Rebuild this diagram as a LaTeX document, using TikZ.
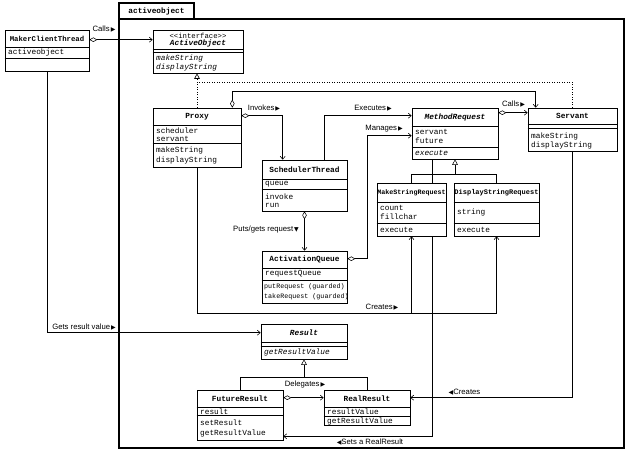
\documentclass[tikz,border=0pt]{standalone}
\usepackage{fontspec}
\setmonofont{Liberation Mono}
\newfontfamily\lsans{Liberation Sans}
\newfontfamily\dvs{DejaVu Sans}
\usetikzlibrary{arrows.meta,calc,fit}
\pgfdeclarelayer{bg}
\pgfsetlayers{bg,main}
\newcommand\rtri{{\dvs\fontsize{6}{7}\selectfont\,▶}}
\newcommand\ltri{{\dvs\fontsize{6}{7}\selectfont ◀}}
\newcommand\dtri{{\dvs\fontsize{6}{7}\selectfont\,▼}}
\tikzset{
  box/.style={draw, line width=0.6pt, fill=white, inner sep=0pt},
  pkg/.style={draw, line width=1.1pt, inner sep=0pt},
  sepl/.style={line width=0.5pt},
  nm/.style={font=\ttfamily\bfseries\fontsize{7.8}{9}\selectfont, inner sep=0pt},
  nmi/.style={font=\ttfamily\bfseries\itshape\fontsize{7.8}{9}\selectfont, inner sep=0pt},
  atr/.style={font=\ttfamily\fontsize{7.8}{9}\selectfont, anchor=west, inner sep=0pt},
  atri/.style={font=\ttfamily\itshape\fontsize{7.8}{9}\selectfont, anchor=west, inner sep=0pt},
  lb/.style={font=\lsans\fontsize{7.7}{9}\selectfont, inner sep=0pt},
  plain/.style={line width=0.55pt},
  nav/.style={line width=0.55pt, -{Straight Barb[length=3pt,width=5pt]}},
  agg/.style={line width=0.55pt, {Diamond[open,length=8pt,width=4.5pt]}-{Straight Barb[length=3pt,width=5pt]}},
  gen/.style={line width=0.55pt, -{Triangle[open,length=5.5pt,width=5.5pt]}},
  dline/.style={line width=0.6pt, dash pattern=on 1pt off 1.5pt},
}
\newcommand\uclass[5]{\node[box, fit={(#2,#3) (#4,#5)}] (#1) {};}
\newcommand\usep[2]{\draw[sepl] (#1.west |- 0,#2) -- (#1.east |- 0,#2);}
\begin{document}
\begin{tikzpicture}[x=1pt,y=-1pt]
\useasboundingbox (0,0) rectangle (632,452);
% package
\node[pkg, fit={(119,19) (624,448)}] (pkgbody) {};
\node[pkg, fit={(119,3) (194,19)}] (pkgtab) {};
\node[nm] (pkgname) at (156.5,11) {activeobject};

% MakerClientThread
\uclass{mct}{5}{30}{89}{71}
\usep{mct}{47}\usep{mct}{58}
\node[nm, font=\ttfamily\bfseries\fontsize{7.3}{9}\selectfont] (mctn) at (47,38.5) {MakerClientThread};
\node[atr] (mcta) at (8,52.5) {activeobject};

% ActiveObject
\uclass{ao}{153}{30}{243}{73}
\usep{ao}{49}\usep{ao}{52}
\node[atr, anchor=center, font=\ttfamily\fontsize{7.3}{9}\selectfont] (aos) at (198,35.5) {<{}<interface>{}>};
\node[nmi] (aon) at (198,43.5) {ActiveObject};
\node[atri] (aoo1) at (156,58) {makeString};
\node[atri] (aoo2) at (156,67.5) {displayString};

% Proxy
\uclass{proxy}{153}{108}{241}{167}
\usep{proxy}{125}\usep{proxy}{143}
\node[nm] (proxyn) at (197,116.5) {Proxy};
\node[atr] (proxya1) at (156,130.5) {scheduler};
\node[atr] (proxya2) at (156,138.5) {servant};
\node[atr] (proxyo1) at (156,150) {makeString};
\node[atr] (proxyo2) at (156,160) {displayString};

% SchedulerThread
\uclass{st}{262}{160}{347}{211}
\usep{st}{179}\usep{st}{189}
\node[nm] (stn) at (304.5,169.5) {SchedulerThread};
\node[atr] (sta1) at (265,184) {queue};
\node[atr] (sto1) at (265,197) {invoke};
\node[atr] (sto2) at (265,205.5) {run};

% ActivationQueue
\uclass{aq}{262}{251}{347}{303}
\usep{aq}{268}\usep{aq}{280}
\node[nm] (aqn) at (304.5,259.5) {ActivationQueue};
\node[atr] (aqa1) at (265,274) {requestQueue};
\node[atr, font=\ttfamily\fontsize{6.7}{8}\selectfont] (aqo1) at (264,286.5) {putRequest (guarded)};
\node[atr, font=\ttfamily\fontsize{6.7}{8}\selectfont] (aqo2) at (264,296.5) {takeRequest (guarded)};

% MethodRequest
\uclass{mr}{412}{108}{498}{159}
\usep{mr}{126}\usep{mr}{147}
\node[nmi] (mrn) at (455,117) {MethodRequest};
\node[atr] (mra1) at (415,131.5) {servant};
\node[atr] (mra2) at (415,141) {future};
\node[atri] (mro1) at (415,153) {execute};

% Servant
\uclass{sv}{528}{108}{617}{151}
\usep{sv}{124}\usep{sv}{128}
\node[nm] (svn) at (572.5,116) {Servant};
\node[atr] (svo1) at (531,136) {makeString};
\node[atr] (svo2) at (531,145) {displayString};

% MakeStringRequest
\uclass{msr}{377}{183}{446}{236}
\usep{msr}{202}\usep{msr}{223}
\node[nm, font=\ttfamily\bfseries\fontsize{6.7}{8}\selectfont] (msrn) at (411.5,192.5) {MakeStringRequest};
\node[atr] (msra1) at (380,207.5) {count};
\node[atr] (msra2) at (380,217) {fillchar};
\node[atr] (msro1) at (380,229.5) {execute};

% DisplayStringRequest
\uclass{dsr}{454}{183}{539}{236}
\usep{dsr}{202}\usep{dsr}{223}
\node[nm, font=\ttfamily\bfseries\fontsize{7}{8}\selectfont] (dsrn) at (496.5,192.5) {DisplayStringRequest};
\node[atr] (dsra1) at (457,212.5) {string};
\node[atr] (dsro1) at (457,229.5) {execute};

% Result
\uclass{res}{261}{324}{347}{359}
\usep{res}{342}\usep{res}{346}
\node[nmi] (resn) at (304,333) {Result};
\node[atri] (reso1) at (264,352.5) {getResultValue};

% FutureResult
\uclass{fr}{197}{390}{283}{440}
\usep{fr}{407}\usep{fr}{415.5}
\node[nm] (frn) at (240,398.5) {FutureResult};
\node[atr] (fra1) at (200,411.5) {result};
\node[atr] (fro1) at (200,422.5) {setResult};
\node[atr] (fro2) at (200,433) {getResultValue};

% RealResult
\uclass{rr}{324}{390}{410}{425}
\usep{rr}{407}\usep{rr}{416.5}
\node[nm] (rrn) at (367,398.5) {RealResult};
\node[atr] (rra1) at (327,412) {resultValue};
\node[atr] (rro1) at (327,421) {getResultValue};

% labels
\node[lb] (lcalls1) at (104,29) {Calls\rtri};
\node[lb] (lgets) at (84,327) {Gets result value\rtri};
\node[lb] (linv) at (264,108) {Invokes\rtri};
\node[lb] (lexe) at (373,108) {Executes\rtri};
\node[lb] (lman) at (384,129) {Manages\rtri};
\node[lb] (lcalls2) at (513.5,104) {Calls\rtri};
\node[lb] (lputs) at (266,230) {Puts/gets request\dtri};
\node[lb] (lcr1) at (382,307) {Creates\rtri};
\node[lb] (ldel) at (305,385) {Delegates\rtri};
\node[lb] (lcr2) at (464.5,392) {\ltri Creates};
\node[lb] (lset) at (370,442) {\ltri Sets a RealResult};

\begin{pgfonlayer}{bg}
\draw[agg] ($(mct.north east)+(0,10)$) -- ($(ao.north west)+(0,10)$);
\draw[nav] (mct.south) |- ($(res.north west)+(0,9)$);
\draw[dline, -{Triangle[open,length=5.5pt,width=5.5pt]}] (proxy.north) -- (proxy.north |- ao.south);
\draw[dline] (sv.north) |- ($(proxy.north)+(0,-25)$);
\draw[agg] ($(proxy.north east)+(-9,0)$) -- ++(0,-16) -| ($(sv.north west)+(8,0)$);
\draw[agg] ($(proxy.north east)+(0,8)$) -| ($(st.north west)+(21,0)$);
\draw[nav] ($(st.north west)+(63,0)$) |- ($(mr.north west)+(0,8)$);
\draw[agg] ($(aq.north east)+(0,8)$) -- ++(20,0) |- ($(mr.north west)+(0,28)$);
\draw[agg] ($(mr.north east)+(0,5)$) -- ($(sv.north west)+(0,5)$);
\draw[agg] (st.south) -- (aq.north);
\draw[plain] (msr.north) |- ($(mr.south)+(0,15)$);
\draw[plain] (dsr.north) |- ($(mr.south)+(0,15)$);
\draw[gen] ($(mr.south)+(0,15)$) -- (mr.south);
\draw[nav] (proxy.south) |- ($(dsr.south)+(0,77)$) -- (dsr.south);
\draw[nav] ($(msr.south)+(0,77)$) -- (msr.south);
\draw[nav] (sv.south) |- ($(rr.north east)+(0,8)$);
\draw[agg] ($(fr.north east)+(0,8)$) -- ($(rr.north west)+(0,8)$);
\draw[plain] (fr.north) |- ($(res.south)+(0,18)$);
\draw[plain] (rr.north) |- ($(res.south)+(0,18)$);
\draw[gen] ($(res.south)+(0,18)$) -- (res.south);
\draw[nav] ($(mr.south west)+(21,0)$) |- ($(fr.south east)+(0,-4)$);
\end{pgfonlayer}
\end{tikzpicture}
\end{document}
